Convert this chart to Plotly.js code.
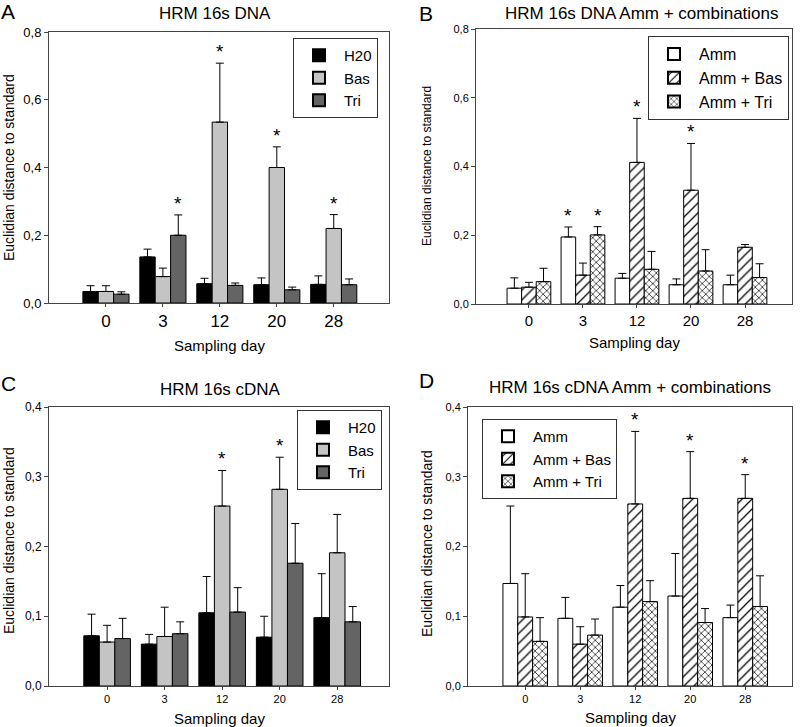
<!DOCTYPE html>
<html>
<head>
<meta charset="utf-8">
<script src="https://cdn.plot.ly/plotly-3.0.1.min.js"></script>
<style>html,body{margin:0;padding:0;background:#fff;}#chart{width:800px;height:727px;}</style>
</head>
<body>
<div id="chart"></div>
<script>
// ---------- DATA ----------
const days = ['0', '3', '12', '20', '28'];

// Panel A: HRM 16s DNA
const a_h20 = [0.034, 0.136, 0.057, 0.054, 0.055];
const a_h20_err = [0.017, 0.023, 0.016, 0.020, 0.025];
const a_bas = [0.034, 0.078, 0.534, 0.400, 0.220];
const a_bas_err = [0.017, 0.025, 0.174, 0.061, 0.041];
const a_tri = [0.026, 0.200, 0.052, 0.039, 0.054];
const a_tri_err = [0.007, 0.060, 0.007, 0.008, 0.017];
const a_h20_sig = [0, 0, 0, 0, 0];
const a_bas_sig = [0, 0, 1, 1, 1];
const a_tri_sig = [0, 1, 0, 0, 0];

// Panel B: HRM 16s DNA Amm + combinations
const b_amm = [0.046, 0.195, 0.075, 0.056, 0.056];
const b_amm_err = [0.030, 0.029, 0.014, 0.017, 0.028];
const b_ammbas = [0.049, 0.084, 0.412, 0.331, 0.165];
const b_ammbas_err = [0.014, 0.035, 0.128, 0.136, 0.008];
const b_ammtri = [0.065, 0.201, 0.101, 0.096, 0.077];
const b_ammtri_err = [0.039, 0.024, 0.052, 0.062, 0.040];
const b_amm_sig = [0, 1, 0, 0, 0];
const b_ammbas_sig = [0, 0, 1, 1, 0];
const b_ammtri_sig = [0, 1, 0, 0, 0];

// Panel C: HRM 16s cDNA
const c_h20 = [0.072, 0.060, 0.105, 0.070, 0.098];
const c_h20_err = [0.031, 0.014, 0.052, 0.030, 0.063];
const c_bas = [0.063, 0.071, 0.258, 0.282, 0.191];
const c_bas_err = [0.024, 0.042, 0.051, 0.046, 0.055];
const c_tri = [0.068, 0.075, 0.106, 0.176, 0.092];
const c_tri_err = [0.029, 0.017, 0.035, 0.057, 0.022];
const c_h20_sig = [0, 0, 0, 0, 0];
const c_bas_sig = [0, 0, 1, 1, 0];
const c_tri_sig = [0, 0, 0, 0, 0];

// Panel D: HRM 16s cDNA Amm + combinations
const d_amm = [0.147, 0.097, 0.113, 0.129, 0.098];
const d_amm_err = [0.111, 0.030, 0.031, 0.061, 0.018];
const d_ammbas = [0.099, 0.060, 0.261, 0.269, 0.269];
const d_ammbas_err = [0.062, 0.025, 0.104, 0.067, 0.034];
const d_ammtri = [0.064, 0.073, 0.121, 0.091, 0.114];
const d_ammtri_err = [0.034, 0.023, 0.030, 0.020, 0.044];
const d_amm_sig = [0, 0, 0, 0, 0];
const d_ammbas_sig = [0, 0, 1, 1, 1];
const d_ammtri_sig = [0, 0, 0, 0, 0];

// ---------- BUILD ----------
const FONT = '"Liberation Sans", Arial, sans-serif';
const W = 800, H = 727;
const BARGAP = 0.19;
const barW = (1 - BARGAP) / 3;

const styleSolid = {
  H20: {color: '#000000'},
  Bas: {color: '#c4c4c4'},
  Tri: {color: '#646464'}
};
const stylePat = {
  'Amm': {color: '#ffffff'},
  'Amm + Bas': {color: '#ffffff', pattern: {shape: '/', fgcolor: '#000', bgcolor: '#fff', size: 7, solidity: 0.18}},
  'Amm + Tri': {color: '#ffffff', pattern: {shape: 'x', fgcolor: '#000', bgcolor: '#fff', size: 5, solidity: 0.25}}
};

const traces = [];
const annotations = [];

function addPanel(ax, legendId, series, styles) {
  const xa = 'x' + (ax === 1 ? '' : ax), ya = 'y' + (ax === 1 ? '' : ax);
  series.forEach((s, k) => {
    const st = styles[s.name];
    const marker = {color: st.color, line: {color: '#000', width: 1}};
    if (st.pattern) marker.pattern = st.pattern;
    traces.push({
      type: 'bar', name: s.name, x: days, y: s.vals,
      xaxis: xa, yaxis: ya, legend: legendId,
      marker: marker,
      error_y: {type: 'data', symmetric: false, array: s.err, arrayminus: s.vals.map(() => 0),
                color: '#000', thickness: 1, width: 4},
      hoverinfo: 'skip'
    });
    s.sig.forEach((f, i) => {
      if (f) {
        annotations.push({
          xref: xa, yref: ya, x: i + (k - 1) * barW, y: s.vals[i] + s.err[i],
          text: '*', showarrow: false, yanchor: 'bottom', yshift: -1,
          font: {family: FONT, size: 19, color: '#000'}
        });
      }
    });
  });
}

addPanel(1, 'legend', [
  {name: 'H20', vals: a_h20, err: a_h20_err, sig: a_h20_sig},
  {name: 'Bas', vals: a_bas, err: a_bas_err, sig: a_bas_sig},
  {name: 'Tri', vals: a_tri, err: a_tri_err, sig: a_tri_sig}
], styleSolid);
addPanel(2, 'legend2', [
  {name: 'Amm', vals: b_amm, err: b_amm_err, sig: b_amm_sig},
  {name: 'Amm + Bas', vals: b_ammbas, err: b_ammbas_err, sig: b_ammbas_sig},
  {name: 'Amm + Tri', vals: b_ammtri, err: b_ammtri_err, sig: b_ammtri_sig}
], stylePat);
addPanel(3, 'legend3', [
  {name: 'H20', vals: c_h20, err: c_h20_err, sig: c_h20_sig},
  {name: 'Bas', vals: c_bas, err: c_bas_err, sig: c_bas_sig},
  {name: 'Tri', vals: c_tri, err: c_tri_err, sig: c_tri_sig}
], styleSolid);
addPanel(4, 'legend4', [
  {name: 'Amm', vals: d_amm, err: d_amm_err, sig: d_amm_sig},
  {name: 'Amm + Bas', vals: d_ammbas, err: d_ammbas_err, sig: d_ammbas_sig},
  {name: 'Amm + Tri', vals: d_ammtri, err: d_ammtri_err, sig: d_ammtri_sig}
], stylePat);

// pixel boxes of plot areas [left, right, top, bottom]
const boxes = {
  1: [49, 389, 32, 303],
  2: [476, 792, 29, 304],
  3: [49, 389, 407, 686],
  4: [468, 792, 407, 686]
};
const xr = {1: [-1.0, 4.97], 2: [-0.98, 4.87], 3: [-1.01, 4.9], 4: [-1.04, 4.85]};
const yr = {1: [0, 0.8], 2: [0, 0.8], 3: [0, 0.4], 4: [0, 0.4]};
const ydt = {1: 0.2, 2: 0.2, 3: 0.1, 4: 0.1};
const xtickSize = {1: 17, 2: 15, 3: 11, 4: 11};
const ytickSize = {1: 13, 2: 11, 3: 12, 4: 11};

const layout = {
  width: W, height: H, margin: {l: 0, r: 0, t: 0, b: 0},
  paper_bgcolor: '#fff', plot_bgcolor: '#fff',
  separators: ', ',
  barmode: 'group', bargap: BARGAP, bargroupgap: 0,
  font: {family: FONT, color: '#000'},
  annotations: annotations,
  showlegend: true
};

[1, 2, 3, 4].forEach(n => {
  const b = boxes[n];
  const sfx = n === 1 ? '' : n;
  layout['xaxis' + sfx] = {
    domain: [b[0] / W, b[1] / W], anchor: 'y' + sfx, type: 'category',
    range: xr[n], showline: true, mirror: true, linecolor: '#444', linewidth: 1,
    ticks: 'outside', ticklen: 3, tickcolor: '#444', showgrid: false, zeroline: false,
    tickfont: {size: xtickSize[n], family: FONT, color: '#000'}, fixedrange: true
  };
  layout['yaxis' + sfx] = {
    domain: [1 - b[3] / H, 1 - b[2] / H], anchor: 'x' + sfx,
    range: yr[n], dtick: ydt[n], tick0: 0, tickformat: '.1f',
    showline: true, mirror: true, linecolor: '#444', linewidth: 1,
    ticks: 'outside', ticklen: 4, tickcolor: '#444', showgrid: false, zeroline: false,
    tickfont: {size: ytickSize[n], family: FONT, color: '#000'}, fixedrange: true
  };
});

function legendAt(x0, y0, size) {
  return {
    x: x0 / W, y: 1 - y0 / H, xanchor: 'left', yanchor: 'top',
    bgcolor: '#fff', bordercolor: '#333', borderwidth: 1,
    font: {family: FONT, size: size, color: '#000'},
    tracegroupgap: 0, itemwidth: 40, itemsizing: 'constant'
  };
}
layout.legend = legendAt(293, 38, 15);
layout.legend2 = legendAt(648, 36, 16);
layout.legend3 = legendAt(297, 410, 15);
layout.legend4 = legendAt(482, 419, 15);

// Titles, panel letters, axis titles
function txt(x, y, text, size, extra) {
  annotations.push(Object.assign({
    xref: 'paper', yref: 'paper', x: x / W, y: 1 - y / H, text: text, showarrow: false,
    xanchor: 'center', yanchor: 'middle', font: {family: FONT, size: size, color: '#000'}
  }, extra || {}));
}
txt(215, 13, 'HRM 16s DNA', 17);
txt(642, 13, 'HRM 16s DNA Amm + combinations', 17);
txt(220, 389, 'HRM 16s cDNA', 17);
txt(630, 387, 'HRM 16s cDNA Amm + combinations', 17);
txt(8, 12, 'A', 21);
txt(426, 13, 'B', 21);
txt(8, 384, 'C', 21);
txt(426, 381, 'D', 21);
txt(219, 345, 'Sampling day', 15);
txt(634, 343, 'Sampling day', 15);
txt(219, 718, 'Sampling day', 15);
txt(630, 717, 'Sampling day', 15);
txt(9, 168, 'Euclidian distance to standard', 14, {textangle: -90});
txt(427, 166, 'Euclidian distance to standard', 12, {textangle: -90});
txt(9, 541, 'Euclidian distance to standard', 14, {textangle: -90});
txt(427, 543, 'Euclidian distance to standard', 14, {textangle: -90});

Plotly.newPlot('chart', traces, layout, {displayModeBar: false, staticPlot: true});
</script>
</body>
</html>
